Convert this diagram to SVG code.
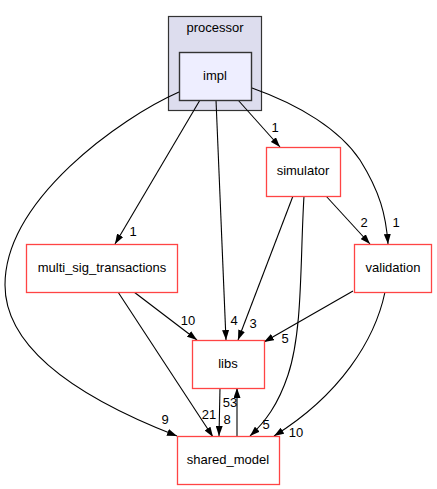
<svg xmlns="http://www.w3.org/2000/svg" width="437" height="489" viewBox="0 0 437 489">
<style>
text{font-family:"Liberation Sans",Arial,sans-serif;font-size:13px;fill:#000}
.n text{text-anchor:middle}
.red{fill:#fff;stroke:#ff4444;stroke-width:1.3}
.e path{fill:none;stroke:#000;stroke-width:1.1;marker-end:url(#ah)}
.lbl{text-anchor:middle}
</style>
<defs>
<marker id="ah" viewBox="0 0 10 7" refX="10" refY="3.5" markerWidth="10" markerHeight="7" markerUnits="userSpaceOnUse" orient="auto">
<path d="M0,0 L10,3.5 L0,7 z" fill="#000"/>
</marker>
</defs>
<rect width="437" height="489" fill="#fff"/>
<g id="cluster_processor">
<rect x="168.5" y="16.5" width="93" height="94" fill="#ddddee" stroke="#333" stroke-width="1.2"/>
<text x="215" y="32" text-anchor="middle">processor</text>
</g>
<g id="edges" class="e">
<path d="M179,92 C120,118 5,200 5,285 C5,360 110,410 177,436"/>
<path d="M200,100 L115,244"/>
<path d="M216,100 L226,340"/>
<path d="M238,100 L280,147"/>
<path d="M252,88 C300,105 340,130 360,160 C380,192 386,215 388,244"/>
<path d="M326,196 L370,244"/>
<path d="M293,196 L238,340"/>
<path d="M304,196 C300,260 303,330 288,375 C278,405 265,422 250,436"/>
<path d="M353,291 L264,342"/>
<path d="M385,292 C375,340 340,395 274,436"/>
<path d="M134,292 L197,340"/>
<path d="M118,292 L213,437"/>
<path d="M220,388 L219,436"/>
<path d="M237,436 L237,388"/>
</g>
<g id="edge_labels">
<text class="lbl" x="165" y="424">9</text>
<text class="lbl" x="133" y="236">1</text>
<text class="lbl" x="234" y="325">4</text>
<text class="lbl" x="253" y="328">3</text>
<text class="lbl" x="275" y="132">1</text>
<text class="lbl" x="396" y="227">1</text>
<text class="lbl" x="364" y="227">2</text>
<text class="lbl" x="188" y="325">10</text>
<text class="lbl" x="285" y="343">5</text>
<text class="lbl" x="209" y="419">21</text>
<text class="lbl" x="227" y="424">8</text>
<text class="lbl" x="230" y="407">53</text>
<text class="lbl" x="266" y="429">5</text>
<text class="lbl" x="296" y="437">10</text>
</g>
<g id="impl" class="n">
<rect x="179.5" y="52.5" width="72" height="48" fill="#eeeeff" stroke="#333" stroke-width="1.4"/>
<text x="215" y="80">impl</text>
</g>
<g id="simulator" class="n">
<rect class="red" x="266.5" y="147.5" width="74" height="49"/>
<text x="303" y="175">simulator</text>
</g>
<g id="multi_sig_transactions" class="n">
<rect class="red" x="26.5" y="244.5" width="151" height="48"/>
<text x="102" y="272">multi_sig_transactions</text>
</g>
<g id="validation" class="n">
<rect class="red" x="354.5" y="244.5" width="77" height="48"/>
<text x="393" y="272">validation</text>
</g>
<g id="libs" class="n">
<rect class="red" x="192.5" y="340.5" width="72" height="48"/>
<text x="228" y="368">libs</text>
</g>
<g id="shared_model" class="n">
<rect class="red" x="177.5" y="436.5" width="102" height="48"/>
<text x="228" y="464">shared_model</text>
</g>
</svg>
